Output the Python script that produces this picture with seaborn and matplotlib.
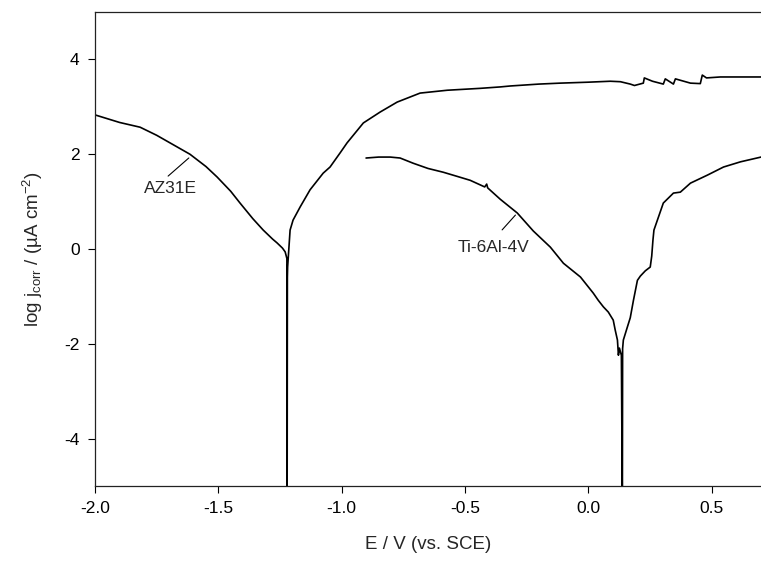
import matplotlib
matplotlib.use("Agg")
import matplotlib.pyplot as plt
import numpy as np
import pandas as pd
import seaborn as sns

# Potentiodynamic polarisation curves
az31e_E = [-2.000, -1.950, -1.900, -1.817, -1.750, -1.696, -1.615, -1.550, -1.505,
           -1.450, -1.412, -1.360, -1.318, -1.280, -1.262, -1.240, -1.229, -1.222,
           -1.221, -1.220, -1.219, -1.209, -1.197, -1.168, -1.128, -1.075, -1.047,
           -1.006, -0.978, -0.912, -0.844, -0.775, -0.682, -0.572, -0.438, -0.357,
           -0.316, -0.200, -0.114, 0.000, 0.089, 0.130, 0.170, 0.187, 0.223, 0.227,
           0.260, 0.304, 0.312, 0.345, 0.353, 0.414, 0.454, 0.462, 0.479, 0.535,
           0.617, 0.700]
az31e_logj = [2.83, 2.75, 2.67, 2.57, 2.40, 2.24, 2.00, 1.74, 1.52,
              1.22, 0.97, 0.64, 0.40, 0.21, 0.13, 0.02, -0.06, -0.20,
              -5.50, -0.60, -0.38, 0.40, 0.61, 0.89, 1.25, 1.60, 1.73,
              2.03, 2.24, 2.66, 2.89, 3.10, 3.29, 3.35, 3.39, 3.42,
              3.44, 3.48, 3.50, 3.52, 3.54, 3.53, 3.48, 3.45, 3.50, 3.61,
              3.54, 3.48, 3.59, 3.48, 3.59, 3.50, 3.49, 3.67, 3.61, 3.63,
              3.63, 3.63]

ti64_E = [-0.901, -0.850, -0.803, -0.763, -0.710, -0.650, -0.588, -0.530, -0.479,
          -0.420, -0.412, -0.408, -0.357, -0.288, -0.223, -0.154, -0.101, -0.032,
          0.020, 0.040, 0.061, 0.081, 0.101, 0.109, 0.118, 0.122, 0.126, 0.134,
          0.138, 0.139, 0.142, 0.158, 0.170, 0.183, 0.199, 0.211, 0.231, 0.251,
          0.257, 0.262, 0.266, 0.280, 0.304, 0.345, 0.373, 0.414, 0.483, 0.548,
          0.617, 0.700]
ti64_logj = [1.92, 1.94, 1.94, 1.92, 1.81, 1.70, 1.62, 1.53, 1.45,
             1.31, 1.37, 1.29, 1.05, 0.76, 0.38, 0.04, -0.30, -0.59,
             -0.93, -1.08, -1.22, -1.33, -1.50, -1.71, -1.92, -2.24, -2.09, -2.24,
             -5.50, -2.10, -1.92, -1.65, -1.45, -1.08, -0.66, -0.57, -0.46, -0.38,
             -0.15, 0.19, 0.40, 0.61, 0.97, 1.18, 1.20, 1.39, 1.56, 1.73,
             1.84, 1.94]

x_ticks = [-2.0, -1.5, -1.0, -0.5, 0.0, 0.5]
y_ticks = [-4, -2, 0, 2, 4]

sns.set_style("ticks")
plt.rcParams["font.family"] = ["Liberation Sans", "DejaVu Sans"]
plt.rcParams["mathtext.default"] = "regular"
plt.rcParams["axes.unicode_minus"] = False

fig = plt.figure(figsize=(7.61, 5.65), dpi=100)
ax = fig.add_axes([0.1248, 0.1398, 0.8752, 0.8389])

df_az = pd.DataFrame({"E": az31e_E, "logj": az31e_logj})
df_ti = pd.DataFrame({"E": ti64_E, "logj": ti64_logj})
for df in (df_az, df_ti):
    sns.lineplot(data=df, x="E", y="logj", sort=False, estimator=None,
                 color="black", linewidth=1.2, ax=ax)

ax.set_xlim(-2.0, 0.7)
ax.set_ylim(-5, 5)
ax.set_xticks(x_ticks)
ax.set_xticklabels([f"{t:.1f}" for t in x_ticks])
ax.set_yticks(y_ticks)
ax.set_yticklabels([str(t) for t in y_ticks])
ax.tick_params(direction="out", length=5, width=0.8, labelsize=12.5, pad=6,
               colors="black")
for side in ["left", "bottom", "top"]:
    ax.spines[side].set_visible(True)
    ax.spines[side].set_linewidth(0.9)
    ax.spines[side].set_color("#222222")
ax.spines["right"].set_visible(False)

ax.set_xlabel("E / V (vs. SCE)", fontsize=13.5, labelpad=14)
ax.set_ylabel(r"log j$_{corr}$ / (µA cm$^{-2}$)", fontsize=13.5, labelpad=14)

# curve labels with leader lines
ax.annotate("", xy=(-1.611, 1.96), xytext=(-1.712, 1.50),
            arrowprops=dict(arrowstyle="-", lw=0.8, color="black"))
ax.text(-1.692, 1.27, "AZ31E", fontsize=12.5, ha="center", va="center")
ax.annotate("", xy=(-0.288, 0.76), xytext=(-0.357, 0.36),
            arrowprops=dict(arrowstyle="-", lw=0.8, color="black"))
ax.text(-0.385, 0.04, "Ti-6Al-4V", fontsize=12.5, ha="center", va="center")

fig.savefig("out.png", dpi=100)
